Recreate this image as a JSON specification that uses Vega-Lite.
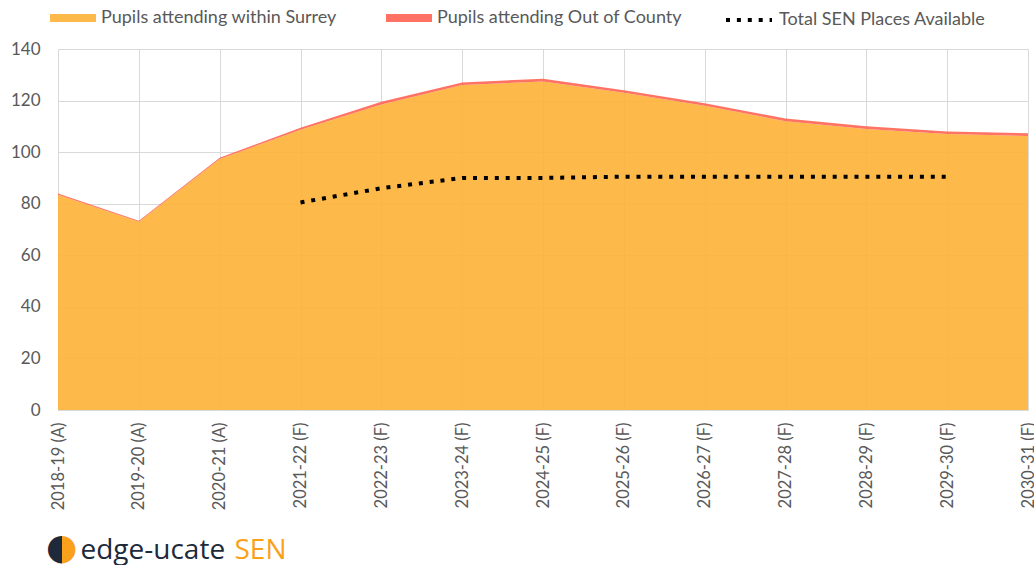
{
  "$schema": "https://vega.github.io/schema/vega-lite/v6.json",
  "width": 970,
  "height": 361,
  "autosize": {"type": "none"},
  "padding": {"left": 58, "top": 49, "right": 6, "bottom": 155},
  "background": "white",
  "title": {
    "text": "●",
    "orient": "bottom",
    "anchor": "start",
    "frame": "group",
    "font": "DejaVu Sans",
    "fontSize": 36,
    "fontWeight": "normal",
    "baseline": "top",
    "dx": -12,
    "dy": -33,
    "offset": 0,
    "color": {"value": {"gradient": "linear", "x1": 0, "x2": 1, "y1": 0, "y2": 0, "stops": [{"offset": 0, "color": "#1E2A3C"}, {"offset": 0.5, "color": "#1E2A3C"}, {"offset": 0.5, "color": "#F9A11B"}, {"offset": 1, "color": "#F9A11B"}]}}
  },
  "config": {
    "view": {"stroke": null},
    "font": "Lato",
    "axis": {"gridColor": "#d9d9d9", "gridWidth": 1, "labelColor": "#595959", "labelFont": "Lato", "ticks": false}
  },
  "data": {
    "values": [
      {"year": "2018-19 (A)", "series": "Pupils attending within Surrey", "value": 83.5},
      {"year": "2019-20 (A)", "series": "Pupils attending within Surrey", "value": 73},
      {"year": "2020-21 (A)", "series": "Pupils attending within Surrey", "value": 97.3},
      {"year": "2021-22 (F)", "series": "Pupils attending within Surrey", "value": 108.7},
      {"year": "2022-23 (F)", "series": "Pupils attending within Surrey", "value": 118.5},
      {"year": "2023-24 (F)", "series": "Pupils attending within Surrey", "value": 126},
      {"year": "2024-25 (F)", "series": "Pupils attending within Surrey", "value": 127.4},
      {"year": "2025-26 (F)", "series": "Pupils attending within Surrey", "value": 123},
      {"year": "2026-27 (F)", "series": "Pupils attending within Surrey", "value": 118},
      {"year": "2027-28 (F)", "series": "Pupils attending within Surrey", "value": 112},
      {"year": "2028-29 (F)", "series": "Pupils attending within Surrey", "value": 109},
      {"year": "2029-30 (F)", "series": "Pupils attending within Surrey", "value": 107},
      {"year": "2030-31 (F)", "series": "Pupils attending within Surrey", "value": 106.3},
      {"year": "2018-19 (A)", "series": "Pupils attending Out of County", "value": 0.5},
      {"year": "2019-20 (A)", "series": "Pupils attending Out of County", "value": 0.4},
      {"year": "2020-21 (A)", "series": "Pupils attending Out of County", "value": 0.5},
      {"year": "2021-22 (F)", "series": "Pupils attending Out of County", "value": 0.8},
      {"year": "2022-23 (F)", "series": "Pupils attending Out of County", "value": 1},
      {"year": "2023-24 (F)", "series": "Pupils attending Out of County", "value": 1},
      {"year": "2024-25 (F)", "series": "Pupils attending Out of County", "value": 1.1},
      {"year": "2025-26 (F)", "series": "Pupils attending Out of County", "value": 1},
      {"year": "2026-27 (F)", "series": "Pupils attending Out of County", "value": 1},
      {"year": "2027-28 (F)", "series": "Pupils attending Out of County", "value": 1},
      {"year": "2028-29 (F)", "series": "Pupils attending Out of County", "value": 1},
      {"year": "2029-30 (F)", "series": "Pupils attending Out of County", "value": 1},
      {"year": "2030-31 (F)", "series": "Pupils attending Out of County", "value": 1},
      {"year": "2021-22 (F)", "series": "Total SEN Places Available", "value": 80.5},
      {"year": "2022-23 (F)", "series": "Total SEN Places Available", "value": 86},
      {"year": "2023-24 (F)", "series": "Total SEN Places Available", "value": 90},
      {"year": "2024-25 (F)", "series": "Total SEN Places Available", "value": 90},
      {"year": "2025-26 (F)", "series": "Total SEN Places Available", "value": 90.5},
      {"year": "2026-27 (F)", "series": "Total SEN Places Available", "value": 90.5},
      {"year": "2027-28 (F)", "series": "Total SEN Places Available", "value": 90.5},
      {"year": "2028-29 (F)", "series": "Total SEN Places Available", "value": 90.5},
      {"year": "2029-30 (F)", "series": "Total SEN Places Available", "value": 90.5}
    ]
  },
  "encoding": {
    "x": {
      "field": "year",
      "type": "ordinal",
      "scale": {
        "type": "point",
        "padding": 0,
        "domain": ["2018-19 (A)", "2019-20 (A)", "2020-21 (A)", "2021-22 (F)", "2022-23 (F)", "2023-24 (F)", "2024-25 (F)", "2025-26 (F)", "2026-27 (F)", "2027-28 (F)", "2028-29 (F)", "2029-30 (F)", "2030-31 (F)"]
      },
      "axis": {
        "grid": true,
        "domain": true,
        "domainColor": "#d9d9d9",
        "labelAngle": -90,
        "labelAlign": "right",
        "labelBaseline": "middle",
        "labelPadding": 12,
        "labelFontSize": 16.5,
        "title": "SEN",
        "titleX": 176,
        "titleY": 148,
        "titleAlign": "left",
        "titleBaseline": "alphabetic",
        "titleAngle": 0,
        "titleFont": "Open Sans",
        "titleFontSize": 28,
        "titleFontWeight": "normal",
        "titleColor": "#F9A11B"
      }
    },
    "y": {
      "field": "value",
      "type": "quantitative",
      "stack": "zero",
      "scale": {"domain": [0, 140]},
      "axis": {
        "values": [0, 20, 40, 60, 80, 100, 120, 140],
        "grid": true,
        "domain": false,
        "labelPadding": 18,
        "labelFontSize": 17,
        "title": "edge-ucate",
        "titleAngle": 0,
        "titleX": 22,
        "titleY": 509,
        "titleAlign": "left",
        "titleBaseline": "alphabetic",
        "titleFont": "Open Sans",
        "titleFontSize": 28,
        "titleFontWeight": "normal",
        "titleColor": "#1E2A3C"
      }
    }
  },
  "layer": [
    {
      "transform": [{"filter": "datum.series !== 'Total SEN Places Available'"}],
      "mark": {"type": "area", "opacity": 0.9},
      "encoding": {
        "color": {
          "field": "series",
          "type": "nominal",
          "scale": {
            "domain": ["Pupils attending within Surrey", "Pupils attending Out of County"],
            "range": ["#FDB236", "#FF6353"]
          },
          "legend": {
            "orient": "none",
            "direction": "horizontal",
            "legendX": -8,
            "legendY": -54,
            "title": null,
            "labelFont": "Lato",
            "labelFontSize": 18,
            "labelColor": "#595959",
            "labelLimit": 0,
            "labelOffset": 5,
            "columnPadding": 49,
            "symbolSize": 2116,
            "symbolType": "M-1,-0.17H1V0.17H-1Z",
            "symbolStrokeWidth": 0
          }
        },
        "order": {"field": "series", "sort": "descending"}
      }
    },
    {
      "transform": [{"filter": "datum.series === 'Total SEN Places Available'"}],
      "mark": {"type": "line", "strokeWidth": 4, "strokeCap": "butt", "color": "#000000"},
      "encoding": {
        "strokeDash": {
          "field": "series",
          "type": "nominal",
          "scale": {"domain": ["Total SEN Places Available"], "range": [[4, 6.9]]},
          "legend": {
            "orient": "none",
            "legendX": 666,
            "legendY": -54,
            "title": null,
            "labelFont": "Lato",
            "labelFontSize": 18,
            "labelColor": "#595959",
            "labelLimit": 0,
            "labelOffset": 5,
            "symbolSize": 2116,
            "symbolType": "M-1,0H1",
            "symbolStrokeColor": "#000000",
            "symbolStrokeWidth": 4
          }
        }
      }
    }
  ]
}
